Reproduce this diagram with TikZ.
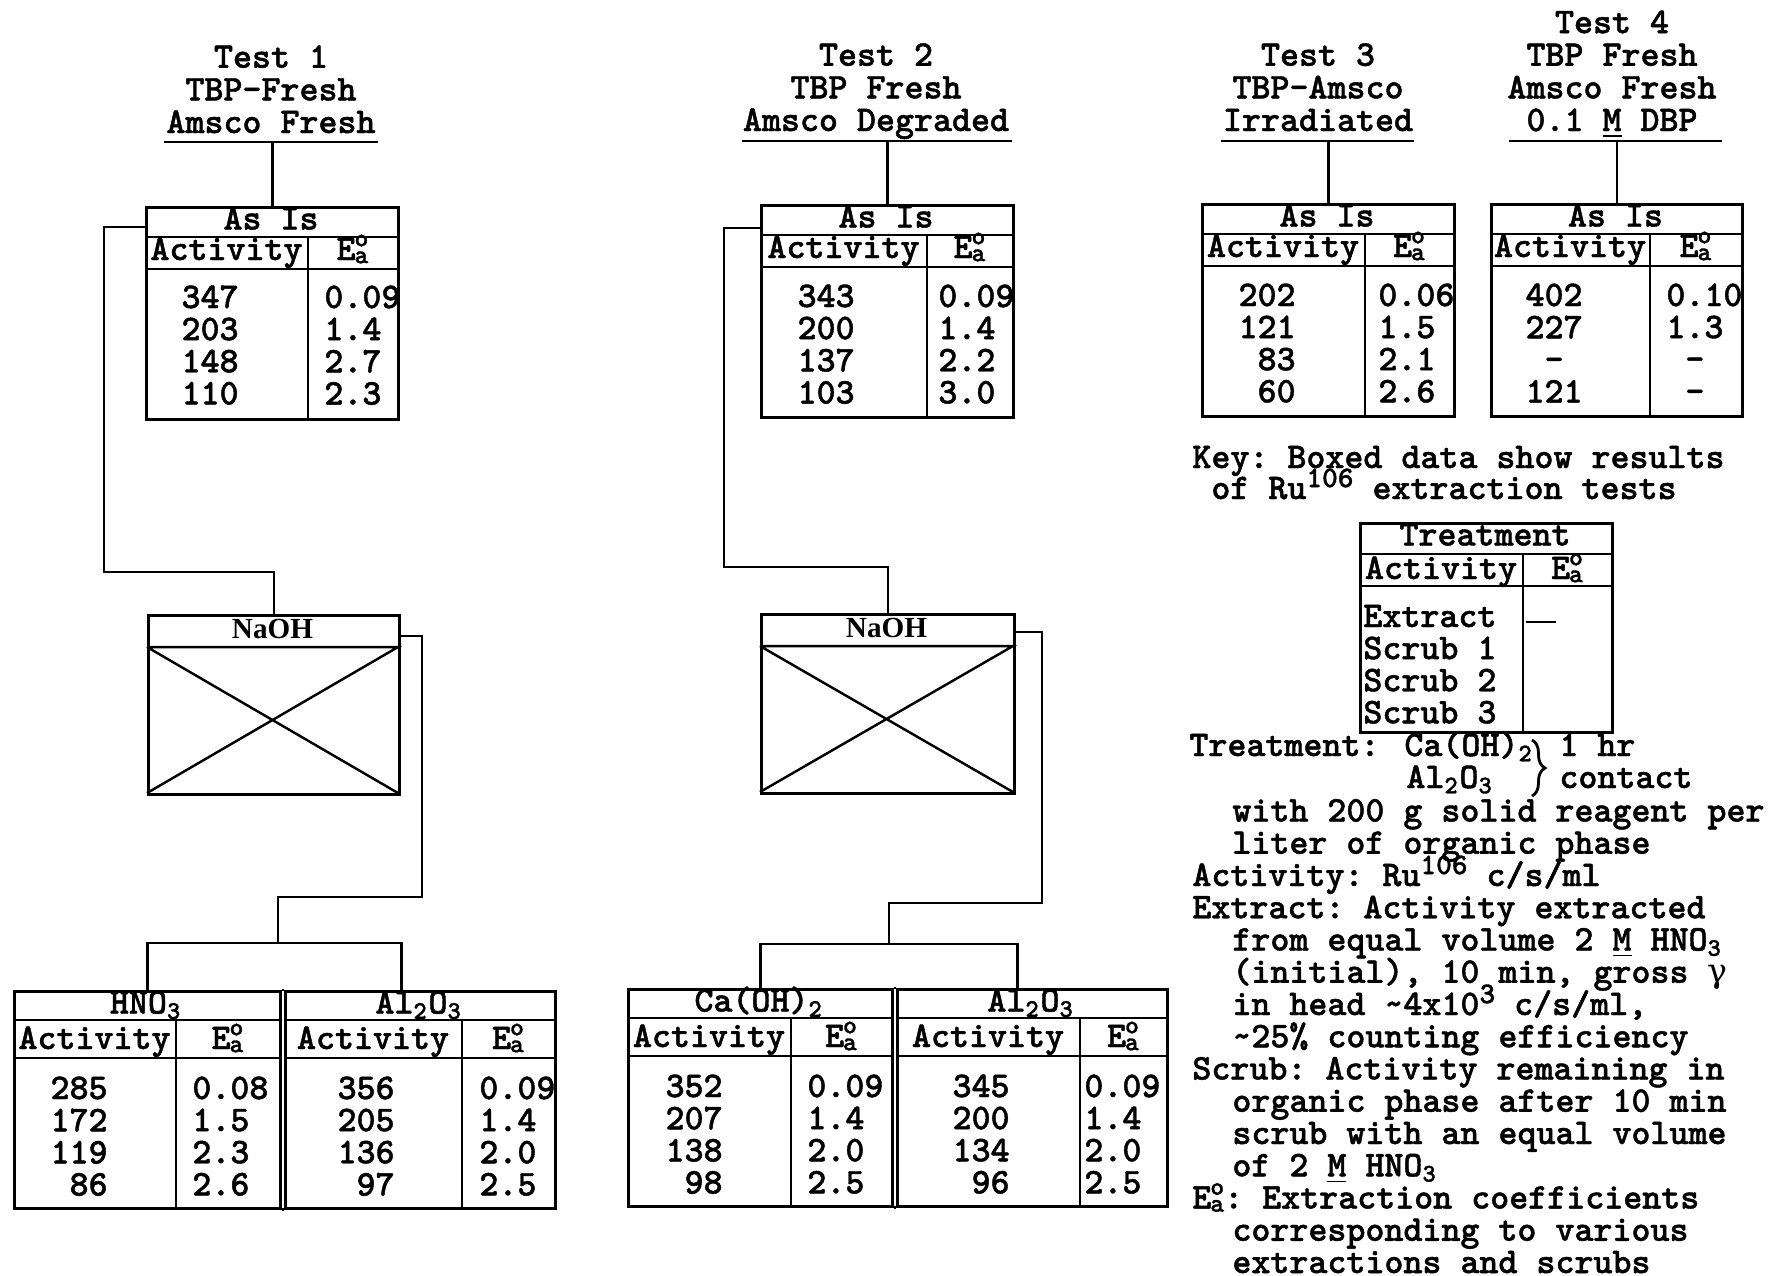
\documentclass[tikz,border=0pt]{standalone}
\usepackage{fontspec}
\newfontfamily\typewr{lmmonolt10-bold.otf}[FakeBold=1.2]
\newfontfamily\naohfont{Liberation Serif}
\newfontfamily\greekfont{DejaVu Serif}
\usetikzlibrary{decorations.pathreplacing}

\newcommand\typ{\typewr\fontsize{10.3}{9.1}\selectfont\frenchspacing}
\newcommand\Eoa{E\kern-0.03em\rlap{\raisebox{3.9pt}{\fontsize{7.5}{7.5}\selectfont o}}\raisebox{-0.9pt}{\fontsize{7.5}{7.5}\selectfont a}}
\newcommand\upper[1]{\smash{\raisebox{3.4pt}{\fontsize{8.5}{8.5}\selectfont #1}}}
\newcommand\tcol[2]{\begin{tabular}[t]{@{}#1@{}}#2\end{tabular}}
\newcommand\ttl[1]{{\def\arraystretch{1.02}\begin{tabular}[b]{@{}c@{}}#1\end{tabular}}}
\newcommand\ind{\hspace*{4mm}}
\def\rowa{3.1}\def\rowb{6.3}\def\rowd{5.4}\def\tabh{21.2}

% table frame: name, x, y, width, divider, title
\newcommand\rutable[6]{%
  \node[tabbox, minimum width=#4mm, minimum height=\tabh mm] (#1) at (#2,#3) {};
  \draw (#2,#3+\rowa) -- ++(#4,0) (#2,#3+\rowb) -- ++(#4,0)
    (#2+#5,#3+\rowa) -- (#2+#5,#3+\tabh);
  \node[anchor=base] (#1-t) at (#2+#4/2,#3+2.35) {#6};
  \node[anchor=base] (#1-a) at (#2+#5/2,#3+\rowd) {Activity};
  \node[anchor=base] (#1-e) at ({#2+(#4+#5)/2},#3+\rowd) {\Eoa};
}
% table values: name, right edge of activity, left edge of E, first baseline, values
\newcommand\rudata[6]{%
  \node[anchor=base east] (#1-av) at (#2,#4) {\tcol{r}{#5}};
  \node[anchor=base west] (#1-ev) at (#3,#4) {\tcol{l}{#6}};
}
% crossed NaOH box: name, x, y, width
\newcommand\naohbox[4]{%
  \node[tabbox, minimum width=#4mm, minimum height=17.9mm] (#1) at (#2,#3) {};
  \draw[line width=0.7pt] (#2,#3+3.3) -- ++(#4,0) -- (#2,#3+17.9)
    (#2,#3+3.3) -- (#2+#4,#3+17.9);
  \node[anchor=base, font=\naohfont\bfseries\fontsize{8.3}{8.3}\selectfont] (#1-t)
    at (#2+#4/2,#3+2.4) {NaOH};
}

\begin{document}
\begin{tikzpicture}[x=1mm,y=-1mm,line width=0.8pt,
  every node/.style={inner sep=0,font=\typ},
  tabbox/.style={draw,anchor=north west}]
\useasboundingbox (0,0) rectangle (177,127.5);

% test headings
\node[anchor=base] (test1) at (27.1,13.3) {\ttl{Test 1\\TBP-Fresh\\Amsco Fresh}};
\node[anchor=base] (test2) at (87.6,13.1) {\ttl{Test 2\\TBP Fresh\\Amsco Degraded}};
\node[anchor=base] (test3) at (131.8,13.1) {\ttl{Test 3\\TBP-Amsco\\Irradiated}};
\node[anchor=base] (test4) at (161.2,13.1) {\ttl{Test 4\\TBP Fresh\\Amsco Fresh\\0.1 \underline{M} DBP}};
\coordinate (u1) at (27.1,14.2);
\coordinate (u2) at (87.7,14.1);
\coordinate (u3) at (131.75,14.1);
\coordinate (u4) at (161.55,14.1);
\draw ([xshift=-10.7mm]u1) -- ([xshift=10.7mm]u1);
\draw ([xshift=-13.5mm]u2) -- ([xshift=13.5mm]u2);
\draw ([xshift=-9.65mm]u3) -- ([xshift=9.65mm]u3);
\draw ([xshift=-10.65mm]u4) -- ([xshift=10.65mm]u4);

% as is
\rutable{asis1}{14.5}{20.6}{25.2}{16.3}{As Is}
\rudata{asis1}{24.0}{32.3}{30.8}{347\\203\\148\\110}{0.09\\1.4\\2.7\\2.3}
\rutable{asis2}{76.0}{20.4}{25.2}{16.7}{As Is}
\rudata{asis2}{85.6}{93.7}{30.7}{343\\200\\137\\103}{0.09\\1.4\\2.2\\3.0}
\rutable{asis3}{120.1}{20.3}{25.2}{16.4}{As Is}
\rudata{asis3}{129.7}{137.7}{30.6}{202\\121\\83\\60}{0.06\\1.5\\2.1\\2.6}
\rutable{asis4}{149.0}{20.3}{25.1}{16.0}{As Is}
\rudata{asis4}{158.4}{166.5}{30.6}{402\\227\\\phantom{0}-\phantom{0}\\121}{0.10\\1.3\\\phantom{0}-\\\phantom{0}-}
\foreach \t in {1,...,4}
  \draw (u\t -| asis\t.north) -- (asis\t.north);

% naoh
\naohbox{naoh1}{14.7}{61.4}{25.1}
\naohbox{naoh2}{76.0}{61.3}{25.3}
\draw ([yshift=-2.1mm]asis1.north west) -| (10.4,57.2) -| (naoh1.north);
\draw ([yshift=-2.4mm]asis2.north west) -| (72.4,56.7) -| (naoh2.north);

% after treatment
\def\rowa{3.0}\def\rowb{6.8}\def\rowd{5.9}\def\tabh{21.7}
\rutable{hno3}{1.3}{99.0}{26.6}{16.3}{HNO\textsubscript{3}}
\rudata{hno3}{10.9}{19.1}{109.9}{285\\172\\119\\86}{0.08\\1.5\\2.3\\2.6}
\rutable{al1}{28.4}{99.0}{27.0}{17.8}{Al\textsubscript{2}O\textsubscript{3}}
\rudata{al1}{39.6}{47.8}{109.9}{356\\205\\136\\97}{0.09\\1.4\\2.0\\2.5}
\rutable{caoh}{62.7}{98.8}{26.4}{16.4}{Ca(OH)\textsubscript{2}}
\rudata{caoh}{72.4}{80.6}{109.7}{352\\207\\138\\98}{0.09\\1.4\\2.0\\2.5}
\rutable{al2}{89.6}{98.8}{27.0}{18.4}{Al\textsubscript{2}O\textsubscript{3}}
\rudata{al2}{101.1}{108.3}{109.7}{345\\200\\134\\96}{0.09\\1.4\\2.0\\2.5}
\draw (hno3.north east) -- (al1.north west) (hno3.south east) -- (al1.south west);
\draw (caoh.north east) -- (al2.north west) (caoh.south east) -- (al2.south west);

\coordinate (split1) at (27.8,94.3);
\coordinate (split2) at (88.9,94.4);
\draw ([yshift=-2.2mm]naoh1.north east) -| (42.2,89.7) -| (split1);
\draw ([yshift=-1.9mm]naoh2.north east) -| (104.2,90.3) -| (split2);
\draw (hno3.north) |- (split1) -| ([xshift=-1.9mm]al1.north);
\draw (caoh.north) |- (split2) -| ([xshift=-1.5mm]al2.north);

% key
\node[anchor=base west] (key1) at (119.1,46.8) {Key: Boxed data show results};
\node[anchor=base west] (key2) at (121.0,49.9) {of Ru\upper{106} extraction tests};
\def\rowa{3.2}\def\rowb{6.4}\def\rowd{5.7}\def\tabh{20.9}
\rutable{key}{135.9}{52.2}{25.2}{16.4}{Treatment}
\node[anchor=base west] (key-av) at (136.2,62.7) {\tcol{l}{Extract\\Scrub 1\\Scrub 2\\Scrub 3}};
\draw[line width=0.5pt] (152.6,62.2) -- (155.6,62.2);

\node[anchor=base west] (treat) at (118.8,75.6) {Treatment:};
\node[anchor=base west] (caoh-n) at (140.3,75.6) {Ca(OH)\textsubscript{2}};
\node[anchor=base west] (al-n) at (140.5,78.8) {Al\textsubscript{2}O\textsubscript{3}};
\draw[decorate, decoration={brace,amplitude=1.3mm}]
  (153.2,74.0) -- (153.2,79.6);
\node[anchor=base west] (hr) at (155.8,75.6) {1 hr};
\node[anchor=base west] (contact) at (155.8,78.8) {contact};

% notes
\foreach \notetext [count=\i] in {
  {\ind with 200 g solid reagent per},
  {\ind liter of organic phase},
  {Activity: Ru\upper{106} c/s/ml},
  {Extract: Activity extracted},
  {\ind from equal volume 2 \underline{M} HNO\textsubscript{3}},
  {\ind (initial), 10 min, gross {\greekfont\fontsize{9.5}{9.5}\selectfont γ}},
  {\ind in head \textasciitilde 4x10\upper{3} c/s/ml,},
  {\ind \textasciitilde 25\% counting efficiency},
  {Scrub: Activity remaining in},
  {\ind organic phase after 10 min},
  {\ind scrub with an equal volume},
  {\ind of 2 \underline{M} HNO\textsubscript{3}},
  {\Eoa: Extraction coefficients},
  {\ind corresponding to various},
  {\ind extractions and scrubs}}
  \node[anchor=base west] (note\i) at (119.1,{82.15+(\i-1)*3.225}) {\notetext};
\end{tikzpicture}
\end{document}
